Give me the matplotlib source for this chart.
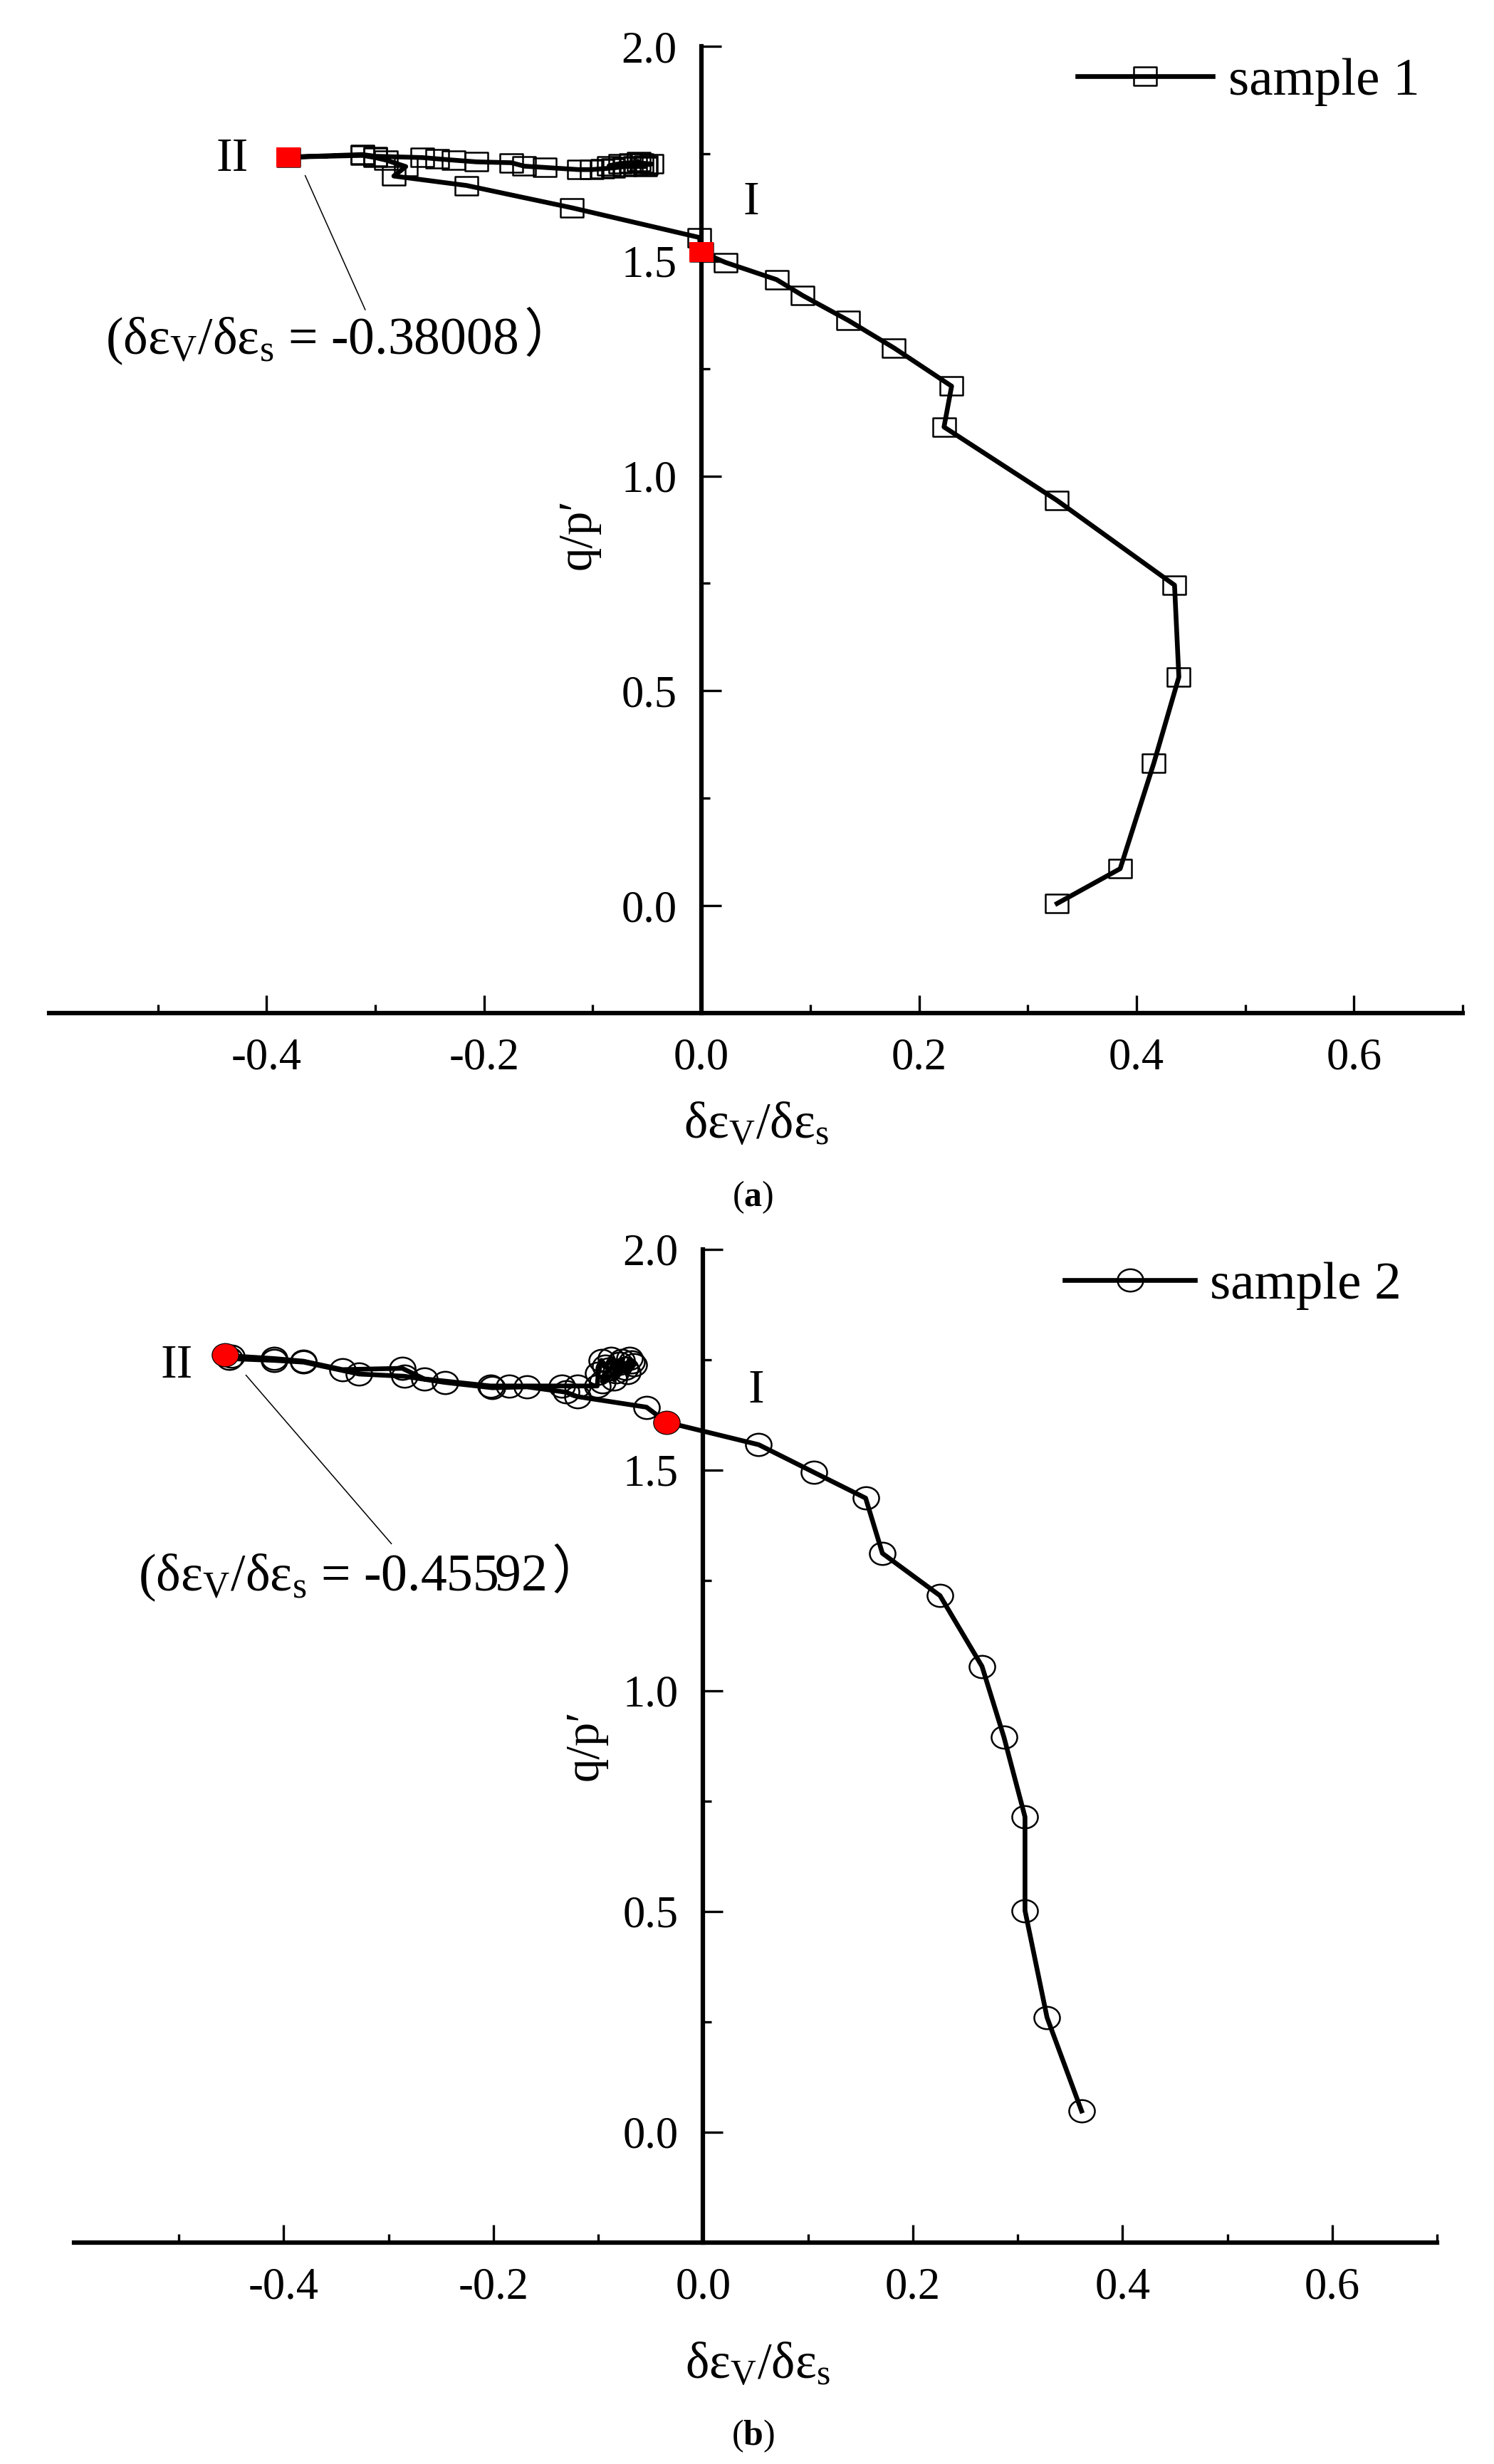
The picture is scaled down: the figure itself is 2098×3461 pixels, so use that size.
import numpy as np
import matplotlib
matplotlib.use('Agg')
import matplotlib.pyplot as plt
from matplotlib.path import Path
from matplotlib.ticker import FixedLocator, FormatStrFormatter
from matplotlib.lines import Line2D

plt.rcParams['font.family'] = ['Liberation Serif', 'DejaVu Serif']
plt.rcParams['mathtext.fontset'] = 'custom'
plt.rcParams['mathtext.rm'] = 'Liberation Serif'
plt.rcParams['mathtext.it'] = 'Liberation Serif:italic'
plt.rcParams['mathtext.bf'] = 'Liberation Serif:bold'
plt.rcParams['axes.unicode_minus'] = False

# ---------------- data ----------------
s1_dilatancy = [0.327, 0.385, 0.416, 0.439, 0.435, 0.327, 0.223, 0.230, 0.177, 0.135,
                0.093, 0.069, 0.022, 0.000, -0.002, -0.119, -0.216, -0.283, -0.272, -0.290,
                -0.300, -0.312, -0.38008, -0.312, -0.300, -0.257, -0.243, -0.228, -0.207, -0.175,
                -0.163, -0.144, -0.113, -0.101, -0.091, -0.081, -0.071, -0.061, -0.051, -0.046,
                -0.055, -0.065, -0.075, -0.085, -0.052, -0.058]
s1_ratio = [0.005, 0.086, 0.332, 0.532, 0.746, 0.943, 1.114, 1.209, 1.298, 1.362,
            1.420, 1.457, 1.497, 1.521, 1.555, 1.624, 1.676, 1.698, 1.720, 1.735,
            1.741, 1.746, 1.742, 1.748, 1.744, 1.741, 1.738, 1.735, 1.731, 1.729,
            1.721, 1.718, 1.713, 1.713, 1.715, 1.717, 1.720, 1.722, 1.724, 1.726,
            1.728, 1.729, 1.727, 1.722, 1.720, 1.731]
s1_key_dilatancy = [0.000, -0.38008]
s1_key_ratio = [1.521, 1.742]

s2_dilatancy = [0.361, 0.328, 0.307, 0.307, 0.287, 0.266, 0.226, 0.171, 0.155, 0.106,
                0.053, -0.035, -0.054, -0.120, -0.131, -0.168, -0.201, -0.246, -0.285, -0.328,
                -0.381, -0.409, -0.452, -0.45592, -0.450, -0.409, -0.381, -0.344, -0.287, -0.266,
                -0.203, -0.185, -0.135, -0.120, -0.101, -0.100, -0.097, -0.093, -0.088, -0.083,
                -0.078, -0.074, -0.070, -0.066, -0.072, -0.080, -0.090, -0.096, -0.068, -0.085]
s2_ratio = [0.048, 0.260, 0.502, 0.714, 0.894, 1.055, 1.215, 1.311, 1.436, 1.494,
            1.557, 1.608, 1.642, 1.666, 1.676, 1.688, 1.686, 1.698, 1.712, 1.717,
            1.744, 1.748, 1.752, 1.760, 1.758, 1.752, 1.746, 1.727, 1.730, 1.706,
            1.690, 1.690, 1.690, 1.690, 1.690, 1.718, 1.748, 1.735, 1.752, 1.722,
            1.748, 1.730, 1.752, 1.738, 1.720, 1.742, 1.728, 1.700, 1.745, 1.705]
s2_key_dilatancy = [-0.035, -0.45592]
s2_key_ratio = [1.608, 1.760]

x_major = [-0.4, -0.2, 0.0, 0.2, 0.4, 0.6]
x_minor = [-0.5, -0.3, -0.1, 0.1, 0.3, 0.5, 0.7]
y_major = [0.0, 0.5, 1.0, 1.5, 2.0]
y_minor = [0.25, 0.75, 1.25, 1.75]

# ---------------- figure ----------------
W, H = 2098, 3461
fig = plt.figure(figsize=(W / 100, H / 100), dpi=100)
fig.patch.set_facecolor('white')


def fx(px):
    return px / W


def fy(py):
    return 1 - py / H


rect_marker = Path([(-1, -0.82), (1, -0.82), (1, 0.82), (-1, 0.82), (-1, -0.82)],
                   [Path.MOVETO, Path.LINETO, Path.LINETO, Path.LINETO, Path.CLOSEPOLY])
uc = Path.unit_circle()
ell_marker = Path(uc.vertices * np.array([1.0, 0.87]), uc.codes)

TICK_FS = 45
LBL_FS = 51
LEG_FS = 54
ROM_FS = 49
ANN_FS = 53


def style(ax):
    ax.set_xlim(-0.6, 0.7)
    ax.set_ylim(-0.25, 2.0)
    ax.patch.set_alpha(0)
    ax.spines['top'].set_visible(False)
    ax.spines['right'].set_visible(False)
    ax.spines['left'].set_position(('data', 0))
    for s in ('left', 'bottom'):
        ax.spines[s].set_linewidth(4.5)
    ax.xaxis.set_major_locator(FixedLocator(x_major))
    ax.xaxis.set_minor_locator(FixedLocator(x_minor))
    ax.yaxis.set_major_locator(FixedLocator(y_major))
    ax.yaxis.set_minor_locator(FixedLocator(y_minor))
    ax.xaxis.set_major_formatter(FormatStrFormatter('%.1f'))
    ax.yaxis.set_major_formatter(FormatStrFormatter('%.1f'))
    ax.tick_params(axis='x', which='major', direction='in', length=18, width=2.4,
                   labelsize=TICK_FS, pad=25)
    ax.tick_params(axis='x', which='minor', direction='in', length=8.6, width=2.4)
    ax.tick_params(axis='y', which='major', direction='in', length=20, width=2.4,
                   labelsize=TICK_FS, pad=25)
    ax.tick_params(axis='y', which='minor', direction='in', length=8.6, width=2.4)


def panel(rect, xs, ys, kx, ky, marker, ms, kms, label, leg_xy, leg_len, leg_gap,
          xl_xy, yl_xy, cap_xy, cap, rom2_xy, rom1_xy, ann_xy, ann_text, lead):
    ax = fig.add_axes(rect)
    style(ax)
    ax.plot(xs, ys, color='black', lw=4.8, marker=marker, ms=ms, mfc='none', mec='black',
            mew=1.8, label=label, zorder=3)
    ax.plot(kx, ky, ls='none', marker=marker, ms=kms, mfc='red', mec='red', mew=0, zorder=4)
    ax.legend(loc='center left', bbox_to_anchor=(fx(leg_xy[0]), fy(leg_xy[1])),
              bbox_transform=fig.transFigure, frameon=False, fontsize=LEG_FS,
              handlelength=leg_len * 0.72 / LEG_FS, handletextpad=leg_gap * 0.72 / LEG_FS,
              borderpad=0, borderaxespad=0, numpoints=1)
    fig.text(fx(xl_xy[0]), fy(xl_xy[1]), r'δε$_{\mathrm{V}}$/δε$_{\mathrm{s}}$',
             ha='center', va='baseline', fontsize=LBL_FS)
    fig.text(fx(yl_xy[0]), fy(yl_xy[1]), 'q/p′', rotation=90, ha='center', va='center',
             fontsize=LBL_FS - 3)
    fig.text(fx(cap_xy[0]), fy(cap_xy[1]), cap, ha='center', va='baseline', fontsize=36)
    fig.text(fx(rom2_xy[0]), fy(rom2_xy[1]), 'II', ha='center', va='baseline', fontsize=ROM_FS)
    fig.text(fx(rom1_xy[0]), fy(rom1_xy[1]), 'I', ha='center', va='baseline', fontsize=ROM_FS)
    t = fig.text(fx(ann_xy[0]), fy(ann_xy[1]), ann_text, ha='left', va='baseline',
                 fontsize=ANN_FS)
    ax.annotate('）', xy=(1, 0), xycoords=t, xytext=(6, 3), textcoords='offset points',
                ha='left', va='bottom', fontsize=ANN_FS, family=['Noto Sans CJK SC'],
                fontweight='light')
    fig.add_artist(Line2D([fx(lead[0]), fx(lead[2])], [fy(lead[1]), fy(lead[3])],
                          transform=fig.transFigure, color='black', lw=1.1))
    return ax


panel([fx(69), fy(1423), (2054 - 69) / W, (1423 - 65) / H],
      s1_dilatancy, s1_ratio, s1_key_dilatancy, s1_key_ratio, rect_marker, 23, 24.5,
      'sample 1', (1513, 115), 190, 22,
      (1062, 1598), (812, 750), (1057, 1694), r'($\mathbf{a}$)',
      (326, 240), (1055, 301), (148, 497),
      r'(δε$_{\mathrm{V}}$/δε$_{\mathrm{s}}$ = -0.38008',
      (428.6, 246.7, 512.8, 435))

panel([fx(104), fy(3150), (2018 - 104) / W, (3150 - 1754.5) / H],
      s2_dilatancy, s2_ratio, s2_key_dilatancy, s2_key_ratio, ell_marker, 26, 26,
      'sample 2', (1495, 1806), 183, 21,
      (1064, 3340), (822, 2451), (1057, 3434), r'($\mathbf{b}$)',
      (248, 1935), (1062, 1970), (194, 2234),
      r'(δε$_{\mathrm{V}}$/δε$_{\mathrm{s}}$ = -0.45592',
      (345.5, 1931.7, 549.6, 2168.3))

fig.savefig('out.png', dpi=100, facecolor='white')
